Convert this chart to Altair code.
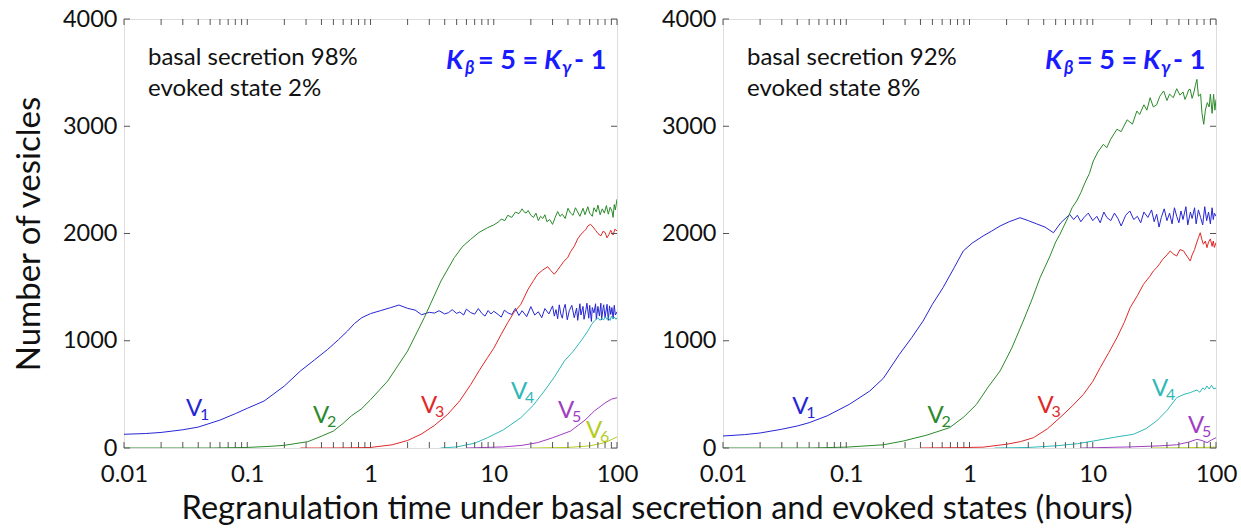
import altair as alt
import pandas as pd

# ---------------- data ----------------
# Panel A: basal 98% / evoked 2%
A_V1_X = [0.01, 0.015, 0.02, 0.03, 0.04, 0.06, 0.08, 0.1, 0.137, 0.2, 0.27, 0.35, 0.45, 0.55, 0.65, 0.74, 0.85, 1.0, 1.2, 1.45, 1.7, 2.0, 2.3, 2.6, 3.0,
          3.3, 3.6, 4.0, 4.3, 4.6, 5.0, 5.3, 5.7, 6.0, 6.5, 7.0, 7.5, 8.0, 8.5, 9.0, 9.5, 10, 11, 11.5, 12.2, 13, 14, 15, 16, 17, 18.5, 20, 21.5, 23, 24.5, 26, 28, 30,
          31, 32, 33, 34, 35, 36, 37, 38, 39.5, 41, 43, 45, 47, 48, 50, 51, 53, 54, 56, 57, 59, 60, 62, 63, 65, 67, 68, 70, 72, 74, 75, 77, 78, 80, 83, 85, 87, 89, 91, 93, 95, 97, 100]
A_V1_Y = [128, 135, 145, 170, 195, 260, 320, 370, 438, 578, 718, 820, 920, 1010, 1090, 1160, 1215, 1253, 1280, 1308, 1333, 1302, 1286, 1243, 1265,
          1258, 1280, 1250, 1262, 1290, 1255, 1268, 1240, 1295, 1262, 1248, 1300, 1255, 1230, 1282, 1250, 1275, 1240, 1220, 1285, 1260, 1245, 1302, 1235, 1280, 1225, 1318, 1240, 1270, 1215, 1300, 1250, 1325,
          1230, 1290, 1205, 1335, 1250, 1210, 1300, 1340, 1195, 1280, 1330, 1215, 1305, 1190, 1345, 1240, 1320, 1200, 1290, 1350, 1210, 1330, 1180, 1310, 1260, 1345, 1200, 1320, 1230, 1350, 1195, 1300, 1335, 1215, 1340, 1190, 1325, 1245, 1310, 1205, 1330, 1240, 1270]

A_V2_X = [0.01, 0.05, 0.1, 0.15, 0.2, 0.31, 0.4, 0.5, 0.6, 0.7, 0.84, 1.0, 1.38, 2.0, 2.73, 3.73, 4.79, 5.6, 6.5, 7.6, 8.9, 10, 11, 11.5, 12.3, 13, 14, 15, 16, 17, 17.5, 18.3, 19, 20, 21, 22, 23, 24, 25, 26, 27, 28.5, 30, 31.5, 33, 34.5, 36, 38, 40, 42, 44, 46, 48, 50, 53, 55, 58, 60, 63, 65, 68, 70, 73, 76, 79, 82, 85, 88, 91, 93, 95, 97, 100]
A_V2_Y = [0, 0, 5, 15, 25, 59, 110, 158, 230, 300, 363, 450, 625, 904, 1215, 1557, 1775, 1880, 1946, 2010, 2054, 2080, 2110, 2135, 2120, 2170, 2150, 2200, 2185, 2230, 2205, 2190, 2215, 2170, 2150, 2190, 2120, 2160, 2140, 2175, 2110, 2130, 2085, 2150, 2205, 2160, 2180, 2140, 2235, 2190, 2170, 2240, 2200, 2160, 2235, 2175, 2250, 2190, 2160, 2240, 2200, 2265, 2175, 2230, 2190, 2260, 2180, 2245, 2210, 2150, 2270, 2220, 2320]

A_V3_X = [0.27, 0.5, 0.8, 1.0, 1.5, 2.0, 2.57, 3.3, 4.23, 5.3, 6.53, 7.6, 8.9, 10, 11.5, 13, 14.5, 16.6, 19, 21, 22.7, 25, 27.4, 29, 31, 33, 35, 37, 39.8, 42, 45, 48, 51, 54, 56, 58, 61, 64, 67, 70, 74, 77, 80, 83, 86, 89, 93, 96, 100]
A_V3_Y = [0, 0, 3, 5, 30, 70, 128, 210, 314, 440, 594, 720, 842, 930, 1060, 1170, 1260, 1340, 1480, 1560, 1620, 1660, 1690, 1655, 1620, 1660, 1700, 1740, 1775, 1830, 1880, 1950, 1993, 2020, 2040, 2070, 2086, 2060, 2030, 2000, 1978, 2020, 2010, 1960, 1990, 2030, 1985, 2040, 2024]

A_V4_X = [3.7, 5.0, 7.0, 8.9, 12, 16.6, 21, 25.7, 31, 37.4, 44, 51, 58, 62, 65.5, 68, 70, 73, 75, 78, 80, 83, 85, 88, 90, 93, 95, 98, 100]
A_V4_Y = [0, 10, 45, 96, 170, 283, 400, 531, 660, 811, 900, 998, 1090, 1150, 1184, 1200, 1215, 1190, 1210, 1195, 1225, 1200, 1215, 1190, 1230, 1205, 1220, 1200, 1215]

A_V5_X = [6, 12, 17, 22.7, 30, 42, 55, 65.5, 80, 90, 100]
A_V5_Y = [0, 10, 25, 50, 95, 158, 260, 345, 420, 455, 469]

A_V6_X = [20, 40, 60, 80, 100]
A_V6_Y = [0, 5, 20, 50, 103]

# Panel B: basal 92% / evoked 8%
B_V1_X = [0.01, 0.015, 0.02, 0.03, 0.04, 0.05, 0.07, 0.106, 0.155, 0.2, 0.27, 0.34, 0.42, 0.5, 0.61, 0.75, 0.89, 1.05, 1.29, 1.5, 1.77, 2.1, 2.57, 3.0, 3.5, 4.1, 4.8, 5.5, 6.5,
          7.0, 7.5, 8.0, 8.5, 9.2, 10, 10.8, 11.5, 12.3, 13, 14, 15, 16, 17, 18.5, 20, 21.5, 23, 24.5, 26, 28, 30, 31.5, 33, 34.5, 36, 38, 40, 42, 44, 46, 48, 50, 52, 54, 57, 59, 62, 64, 67, 69, 72, 75, 78, 81, 84, 87, 90, 93, 95, 97, 100]
B_V1_Y = [112, 125, 140, 175, 205, 236, 300, 407, 531, 650, 873, 1030, 1184, 1340, 1495, 1680, 1837, 1910, 1977, 2020, 2070, 2110, 2147, 2120, 2090, 2060, 2007, 2100, 2178,
          2130, 2170, 2110, 2150, 2190, 2120, 2160, 2100, 2200, 2150, 2120, 2190, 2140, 2070, 2170, 2210, 2130, 2160, 2100, 2200, 2150, 2220, 2110, 2180, 2060, 2150, 2230, 2120, 2190, 2090, 2240, 2160, 2100, 2210, 2130, 2250, 2080, 2200, 2140, 2240, 2090, 2220, 2150, 2080, 2250, 2120, 2200, 2090, 2240, 2130, 2190, 2160]

B_V2_X = [0.01, 0.05, 0.1, 0.2, 0.29, 0.45, 0.69, 0.9, 1.14, 1.4, 1.77, 2.2, 2.73, 3.2, 3.74, 4.5, 5.0, 5.42, 6.3, 6.8, 7.4, 8.0, 8.7, 9.4, 10.1, 11, 12.2, 13, 14, 15.7, 17, 19, 21, 22.8, 24, 26, 27.5, 29.2, 31, 33, 35, 37.6, 40, 42, 45, 48, 51, 54, 56, 58, 60, 61.8, 64, 66, 68, 70, 72, 75, 77, 79.5, 82, 85, 88, 90, 93, 95.6, 98, 100]
B_V2_Y = [0, 0, 8, 30, 65, 120, 190, 290, 407, 560, 718, 930, 1184, 1380, 1588, 1790, 1920, 1993, 2150, 2240, 2303, 2380, 2480, 2560, 2676, 2760, 2832, 2800, 2880, 2972, 2950, 3060, 3020, 3142, 3110, 3200, 3150, 3266, 3180, 3200, 3280, 3329, 3240, 3300, 3266, 3350, 3290, 3320, 3250, 3290, 3340, 3344, 3260, 3310, 3380, 3437, 3280, 3300, 3120, 3018, 3150, 3220, 3180, 3300, 3120, 3297, 3150, 3250]

B_V3_X = [0.4, 0.8, 1.29, 2.0, 2.6, 3.3, 4.3, 5.42, 6.8, 8.4, 10, 11.5, 13.5, 15.7, 18, 20.1, 23, 25.8, 29, 31, 33, 35, 37, 40, 42.5, 45, 48, 51, 54.6, 58, 61.8, 64, 67, 70, 72, 74.5, 77, 79, 82, 84.5, 87, 90, 93, 95, 97, 100]
B_V3_Y = [0, 3, 8, 35, 60, 96, 180, 283, 390, 500, 620, 749, 890, 1028, 1170, 1308, 1420, 1526, 1600, 1650, 1681, 1720, 1760, 1800, 1837, 1810, 1790, 1850, 1837, 1790, 1744, 1800, 1850, 1920, 1960, 2007, 1940, 1900, 1930, 1868, 1920, 1950, 1880, 1930, 1870, 1915]

B_V4_X = [1.6, 3.0, 5.0, 7.5, 10.1, 15, 21.4, 27, 33, 40, 48, 55, 61.8, 66, 70, 74, 78, 81, 84.5, 88, 92, 96, 100]
B_V4_Y = [0, 5, 20, 40, 65, 100, 128, 180, 252, 350, 469, 500, 516, 530, 540, 520, 560, 545, 578, 550, 585, 550, 560]

B_V5_X = [8, 20, 35, 48, 60, 70, 77, 84.5, 92, 100]
B_V5_Y = [0, 10, 20, 30, 55, 81, 70, 50, 75, 96]

B_V6_X = [30, 60, 100]
B_V6_Y = [0, 3, 8]

SERIES = ["V1", "V2", "V3", "V4", "V5", "V6"]
LINE_COLORS = ["#2626d4", "#2a8a2a", "#e02828", "#2fb8b8", "#a13dc2", "#b5cc1e"]
LABEL_COLORS = ["#1515ff", "#168a16", "#ff1414", "#12a8ea", "#4a1fb8", "#99cc00"]

# curve labels: V anchored at its left/baseline, in data units
A_LAB_X = [0.0318, 0.3416, 2.57, 13.8, 33.2, 56.0]
A_LAB_Y = [298, 233, 326, 457, 280, 93]
B_LAB_X = [0.0364, 0.4555, 3.57, 30.2, 59.2]
B_LAB_Y = [317, 233, 326, 485, 140]

Y_TICKS = [0, 1000, 2000, 3000, 4000]
X_MAJOR = [0.01, 0.1, 1, 10, 100]
X_MINOR = [m * d for d in [0.01, 0.1, 1, 10] for m in range(2, 10)]

PANEL_TEXT = [("basal secretion 98%", "evoked state 2%"), ("basal secretion 92%", "evoked state 8%")]

FONT = "Lato"
W, H = 493, 429


def frame(xs, ys, name):
    return pd.DataFrame({"t": xs, "n": ys, "s": name})


A_DATA = pd.concat([frame(A_V1_X, A_V1_Y, "V1"), frame(A_V2_X, A_V2_Y, "V2"), frame(A_V3_X, A_V3_Y, "V3"),
                    frame(A_V4_X, A_V4_Y, "V4"), frame(A_V5_X, A_V5_Y, "V5"), frame(A_V6_X, A_V6_Y, "V6")])
B_DATA = pd.concat([frame(B_V1_X, B_V1_Y, "V1"), frame(B_V2_X, B_V2_Y, "V2"), frame(B_V3_X, B_V3_Y, "V3"),
                    frame(B_V4_X, B_V4_Y, "V4"), frame(B_V5_X, B_V5_Y, "V5"), frame(B_V6_X, B_V6_Y, "V6")])

xscale = alt.Scale(type="log", domain=[0.01, 100], nice=False, padding=0)
yscale = alt.Scale(domain=[0, 4000], nice=False, padding=0)
color = alt.Color("s:N", scale=alt.Scale(domain=SERIES, range=LINE_COLORS), legend=None)


def panel(data, lab_x, lab_y, texts, show_title):
    n = len(lab_x)
    labels = pd.DataFrame({"t": lab_x, "n": lab_y, "s": SERIES[:n], "d": [s[1] for s in SERIES[:n]]})
    lab_color = alt.Color("s:N", scale=alt.Scale(domain=SERIES, range=LABEL_COLORS), legend=None)

    xaxis = alt.Axis(values=X_MAJOR, format="~g", ticks=False, domain=False, grid=False, labelFlush=False,
                     labelFont=FONT, labelFontSize=24, labelColor="#111", labelPadding=14, title=None)
    yaxis = alt.Axis(values=Y_TICKS, format="d", ticks=False, domain=False, grid=False, labelFlush=False,
                     labelFont=FONT, labelFontSize=23.5, labelColor="#111", labelPadding=7,
                     title="Number of vesicles" if show_title else None,
                     titleFont=FONT, titleFontSize=33, titleFontWeight="normal", titleColor="#111", titlePadding=16)

    lines = alt.Chart(data).mark_line(strokeWidth=1, clip=True).encode(
        x=alt.X("t:Q", scale=xscale, axis=xaxis),
        y=alt.Y("n:Q", scale=yscale, axis=yaxis),
        color=color, order=alt.Order("t:Q"))

    vtxt = alt.Chart(labels).mark_text(align="left", baseline="alphabetic", font=FONT, fontSize=24).encode(
        x=alt.X("t:Q", scale=xscale), y=alt.Y("n:Q", scale=yscale), color=lab_color, text=alt.value("V"))
    dtxt = alt.Chart(labels).mark_text(align="left", baseline="alphabetic", font=FONT, fontSize=16, dx=14, dy=4).encode(
        x=alt.X("t:Q", scale=xscale), y=alt.Y("n:Q", scale=yscale), color=lab_color, text="d:N")

    # inward ticks
    xt = pd.DataFrame({"t": X_MAJOR + X_MINOR})
    bt = alt.Chart(xt).mark_rule(color="#555", strokeWidth=1).encode(
        x=alt.X("t:Q", scale=xscale), y=alt.value(H), y2=alt.value(H - 6))
    tt = alt.Chart(xt).mark_rule(color="#555", strokeWidth=1).encode(
        x=alt.X("t:Q", scale=xscale), y=alt.value(0), y2=alt.value(6))
    yt = pd.DataFrame({"n": Y_TICKS})
    lt = alt.Chart(yt).mark_rule(color="#555", strokeWidth=1).encode(
        y=alt.Y("n:Q", scale=yscale), x=alt.value(0), x2=alt.value(6))
    rt = alt.Chart(yt).mark_rule(color="#555", strokeWidth=1).encode(
        y=alt.Y("n:Q", scale=yscale), x=alt.value(W - 6), x2=alt.value(W))

    t1 = alt.Chart(pd.DataFrame({"a": [texts[0]]})).mark_text(
        align="left", baseline="alphabetic", font=FONT, fontSize=24, color="#111").encode(
        x=alt.value(24), y=alt.value(46), text="a:N")
    t2 = alt.Chart(pd.DataFrame({"a": [texts[1]]})).mark_text(
        align="left", baseline="alphabetic", font=FONT, fontSize=24, color="#111").encode(
        x=alt.value(24), y=alt.value(77), text="a:N")

    kparts = [("K", 322, "italic", 27, 50), ("β", 341, "italic", 18, 55), ("= 5 =", 354, "normal", 27, 50),
              ("K", 420, "italic", 27, 50), ("γ", 438, "italic", 18, 55), ("- 1", 450, "normal", 27, 50)]
    klayers = []
    for txt, px, style, fs, base in kparts:
        klayers.append(alt.Chart(pd.DataFrame({"a": [txt]})).mark_text(
            align="left", baseline="alphabetic", font=FONT, fontSize=fs, fontWeight="bold",
            fontStyle=style, color="#1a1aff").encode(x=alt.value(px), y=alt.value(base), text="a:N"))

    return alt.layer(lines, bt, tt, lt, rt, vtxt, dtxt, t1, t2, *klayers).properties(width=W, height=H)


left = panel(A_DATA, A_LAB_X, A_LAB_Y, PANEL_TEXT[0], True)
right = panel(B_DATA, B_LAB_X, B_LAB_Y, PANEL_TEXT[1], False)

chart = alt.hconcat(left, right, spacing=21).properties(
    title=alt.TitleParams("Regranulation time under basal secretion and evoked states (hours)",
                          orient="bottom", anchor="middle", font=FONT, fontSize=32.5, fontWeight="normal",
                          color="#111", offset=6, dx=32),
    padding={"left": 12, "top": 6, "right": 0, "bottom": 0},
).configure_view(stroke="#777", strokeWidth=1).configure(background="white")

chart.save("out.html", embed_options={"renderer": "svg", "actions": False})
